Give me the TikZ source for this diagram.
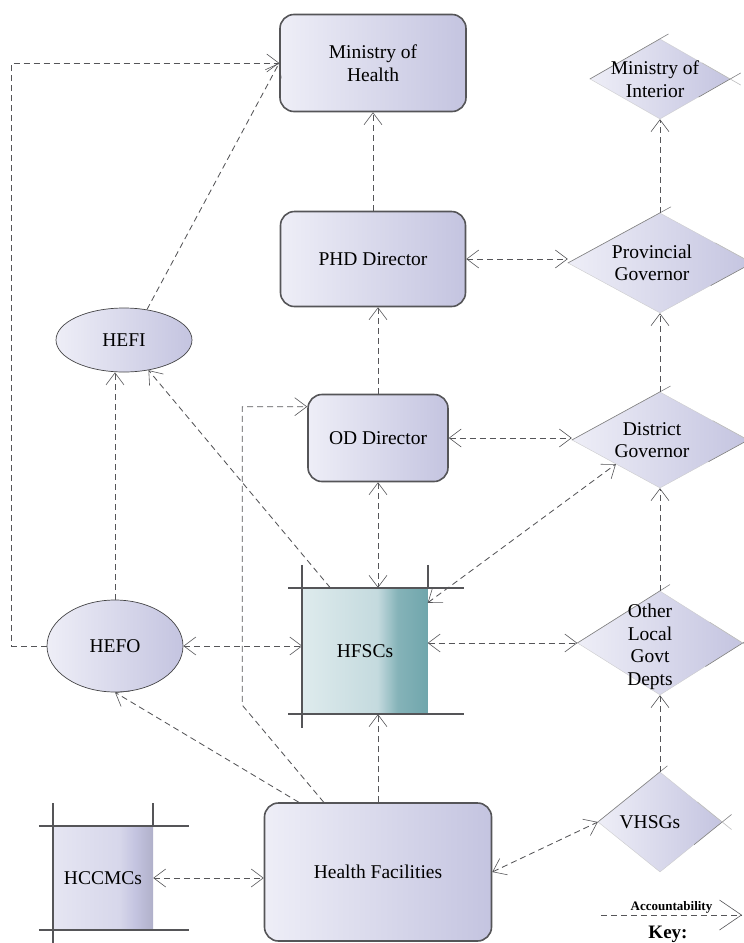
\documentclass[tikz,border=0pt]{standalone}
\usepackage{fontspec}
\setmainfont{Liberation Serif}
\usepackage{tikz}
\newcommand{\lMoH}{Ministry of\\Health}
\newcommand{\lPHD}{PHD Director}
\newcommand{\lOD}{OD Director}
\newcommand{\lHFSC}{HFSCs}
\newcommand{\lHF}{Health Facilities}
\newcommand{\lHCCMC}{HCCMCs}
\newcommand{\lHEFI}{HEFI}
\newcommand{\lHEFO}{HEFO}
\newcommand{\lMoI}{Ministry of\\Interior}
\newcommand{\lPGov}{Provincial\\Governor}
\newcommand{\lDGov}{District\\Governor}
\newcommand{\lOLGD}{Other\\Local\\Govt\\Depts}
\newcommand{\lVHSG}{VHSGs}
\newcommand{\lAcc}{Accountability}
\newcommand{\lKey}{Key:}
\usetikzlibrary{shapes.geometric, arrows.meta, calc}
\definecolor{boxLight}{RGB}{238, 238, 247}
\definecolor{boxDark}{RGB}{196, 196, 224}
\definecolor{tealLight}{RGB}{222, 235, 237}
\definecolor{tealMid}{RGB}{196, 218, 222}
\definecolor{tealDark}{RGB}{112, 166, 172}
\definecolor{frameGrey}{RGB}{85, 85, 88}
% light pane with a dark strip on the right
\pgfdeclarehorizontalshading{hfscShade}{100bp}{color(0bp)=(tealLight); color(25bp)=(tealLight); color(55bp)=(tealMid); color(63bp)=(tealDark!75!tealMid); color(75bp)=(tealDark); color(100bp)=(tealDark)}
\pgfdeclarehorizontalshading{hccmcShade}{100bp}{color(0bp)=(boxLight); color(25bp)=(boxLight!80!boxDark); color(58bp)=(boxLight!45!boxDark); color(66bp)=(boxDark); color(75bp)=(boxDark!90!black); color(100bp)=(boxDark!90!black)}

\begin{document}
\begin{tikzpicture} [
        x=1pt, y=-1pt,
        font=\fontsize{19.5}{22.5}\selectfont,
        >={Straight Barb[length=12pt, width=18pt, line width=0.6pt]},
        big box/.style={draw=frameGrey, line width=1.6pt, rounded corners=14pt, left color=boxLight, right color=boxDark, align=center},
        oval/.style={draw=frameGrey!80!black, line width=0.7pt, ellipse, left color=boxLight, right color=boxDark, inner sep=0pt},
        gov/.style={diamond, inner sep=0pt, draw=frameGrey!30, line width=0.4pt, left color=boxLight, right color=boxDark},
        gov label/.style={align=center, inner sep=0pt},
        council/.style={inner sep=0pt, align=center},
        frame/.style={draw=frameGrey, line width=1.8pt},
        edge sketch/.style={draw=frameGrey!75, line width=0.6pt},
        acc/.style={draw=frameGrey, line width=0.85pt, dash pattern=on 6pt off 4pt},
        key arrow/.style={acc, -{Straight Barb[length=22pt, width=30pt, line width=0.6pt]}},
        key text/.style={font=\bfseries\fontsize{13}{14}\selectfont, inner sep=1pt},
        key title/.style={font=\bfseries\fontsize{19}{20}\selectfont}
    ]

    \useasboundingbox (0,0) rectangle (744,943);

    % ministry of health side
    \path (373,63) node[big box, minimum width=186pt, minimum height=97pt] (moh) {\lMoH};
    \path (moh) ++(0,196) node[big box, minimum width=185pt, minimum height=95pt] (phd) {\lPHD};
    \path (phd) ++(5,179) node[big box, minimum width=140pt, minimum height=87pt] (od) {\lOD};
    \path (od) ++(-13,213) node[council, minimum width=125pt, minimum height=126pt, shading=hfscShade] (hfsc) {\lHFSC};
    \path (hfsc) ++(13,221) node[big box, minimum width=227pt, minimum height=138pt] (hf) {\lHF};
    \path (hf) ++(-275,6) node[council, minimum width=100pt, minimum height=103pt, shading=hccmcShade] (hccmc) {\lHCCMC};
    \path (hfsc) ++(-250,-5) node[oval, minimum width=136pt, minimum height=92pt] (hefo) {\lHEFO};
    \path (hefo) ++(9,-306) node[oval, minimum width=136pt, minimum height=64pt] (hefi) {\lHEFI};

    % interior side
    \path (moh) ++(287,16) node[gov, minimum width=140pt, minimum height=80pt] (moi) {};
    \path (moi) ++(0,184) node[gov, minimum width=184pt, minimum height=100pt] (pgov) {};
    \path (pgov) ++(0,177) node[gov, minimum width=176pt, minimum height=96pt] (dgov) {};
    \path (dgov) ++(0,203) node[gov, minimum width=165pt, minimum height=104pt] (olgd) {};
    \path (olgd) ++(0,179) node[gov, minimum width=124pt, minimum height=100pt] (vhsg) {};

    \foreach \g in {moi, pgov, dgov, olgd, vhsg} {
        \draw[edge sketch] (\g.west) -- ($ (\g.west)!1.12!(\g.north) $);
        \draw[edge sketch] ($ (\g.south)!.55!(\g.east) $) -- ($ (\g.south)!1.15!(\g.east) $);
        \draw[edge sketch, draw=frameGrey!40] ($ (\g.north)!.6!(\g.east) $) -- ($ (\g.north)!1.15!(\g.east) $);
    }

    \path ([xshift=-5pt]moi.center) node[gov label] (moi txt) {\lMoI};
    \path ([xshift=-8pt]pgov.center) node[gov label] (pgov txt) {\lPGov};
    \path ([xshift=-8pt]dgov.center) node[gov label] (dgov txt) {\lDGov};
    \path ([xshift=-10pt,yshift=-4pt]olgd.center) node[gov label] (olgd txt) {\lOLGD};
    \path ([xshift=-10pt]vhsg.center) node[gov label] (vhsg txt) {\lVHSG};

    % open frames round the councils
    \foreach \sq in {hfsc, hccmc} {
        \draw[frame] ([xshift=-14pt]\sq.north west) -- ([xshift=36pt]\sq.north east);
        \draw[frame] ([xshift=-14pt]\sq.south west) -- ([xshift=36pt]\sq.south east);
        \draw[frame] ([yshift=23pt]\sq.north west) -- ([yshift=-14pt]\sq.south west);
        \draw[frame] ([yshift=23pt]\sq.north east) -- (\sq.north east);
    }

    \path (hfsc.south west) ++(-60,-9) coordinate (bend);

    \draw[acc, ->] (hefo.west) -- ++(-35,0) |- (moh.west);
    \draw[acc, ->] (hefi.53) -- (moh.west);
    \draw[acc, ->] (phd.north) -- (moh.south);
    \draw[acc, ->] (od.north) -- (od.north |- phd.south);
    \draw[acc, <->] (phd.east) -- (phd.east -| pgov.west);
    \draw[acc, <->] (od.east) -- (od.east -| dgov.west);
    \draw[acc, ->] (pgov.north) -- (moi.south);
    \draw[acc, ->] (dgov.north) -- (pgov.south);
    \draw[acc, ->] (olgd.north) -- (dgov.south);
    \draw[acc, ->] (vhsg.north) -- (olgd.south);
    \draw[acc, <->] (od.south) -- (od.south |- hfsc.north);
    \draw[acc, <->] ([yshift=-15pt]hfsc.north east) -- (dgov.south west);
    \draw[acc, <->] (olgd.west -| hfsc.east) -- (olgd.west);
    \draw[acc, <->] (hefo.east) -- (hefo.east -| hfsc.west);
    \draw[acc, ->] (hefo.north) -- (hefo.north |- hefi.south);
    \draw[acc, ->] ([xshift=28pt]hfsc.north west) -- (hefi.-51);
    \draw[acc, ->] ([xshift=35pt]hf.north west) -- (hefo.south);
    \draw[acc, ->] ([xshift=60pt]hf.north west) -- (bend) |- ([yshift=-13pt]od.north west);
    \draw[acc, ->] (hf.north) -- (hf.north |- hfsc.south);
    \draw[acc, <->] (hccmc.east) -- (hccmc.east -| hf.west);
    \draw[acc, <->] (hf.east) -- (vhsg.west);

    % key
    \coordinate (key start) at (601,915);
    \coordinate (key end) at (742,915);
    \draw[key arrow] (key start) -- node[above, key text] (acc txt) {\lAcc} (key end);
    \path (668,934) node[key title] (key) {\lKey};

    \end{tikzpicture}
\end{document}
